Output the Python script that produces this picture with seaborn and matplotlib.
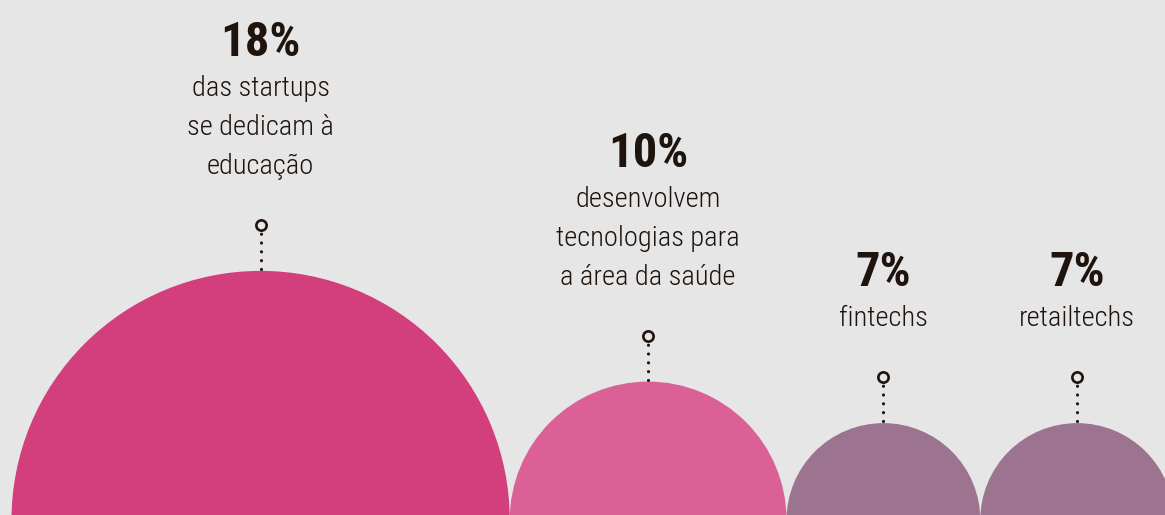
import numpy as np
import pandas as pd
import matplotlib
matplotlib.use("Agg")
import matplotlib.pyplot as plt
from matplotlib.patches import Circle
from matplotlib import font_manager
import seaborn as sns

# ---- data ----
categories = ["educação", "saúde", "fintechs", "retailtechs"]
values = [18, 10, 7, 7]
pct_labels = ["18%", "10%", "7%", "7%"]
descriptions = [
    ["das startups", "se dedicam à", "educação"],
    ["desenvolvem", "tecnologias para", "a área da saúde"],
    ["fintechs"],
    ["retailtechs"],
]
colors = ["#D33E7D", "#DA6096", "#9C7490", "#9C7490"]

# ---- style ----
BG = "#E6E6E6"
INK = "#1F140D"
sns.set_theme(style="white", rc={"figure.facecolor": BG, "axes.facecolor": BG})

available = {f.name for f in font_manager.fontManager.ttflist}
candidates = ["Roboto Condensed", "Liberation Sans Narrow", "DejaVu Sans Condensed",
              "Open Sans Condensed", "Roboto", "DejaVu Sans"]
font_list = [c for c in candidates if c in available] or ["DejaVu Sans"]
plt.rcParams["font.family"] = font_list + ["DejaVu Sans"]

W, H = 1165, 515
fig = plt.figure(figsize=(W / 100, H / 100), dpi=100)
ax = fig.add_axes([0, 0, 1, 1])
ax.set_xlim(0, W)
ax.set_ylim(0, H)
ax.set_axis_off()

K = 13.84          # pixels per percentage point (radius)
left = 11.5        # left edge of the first circle
cy = -5            # circle centres slightly below the bottom edge

radii = np.array(values) * K
centers = []
x = left
for r in radii:
    centers.append(x + r)
    x += 2 * r

marker_rows = []
for i, (cx, r) in enumerate(zip(centers, radii)):
    ax.add_patch(Circle((cx, cy), r, facecolor=colors[i], edgecolor="none", zorder=1))
    top = cy + r
    my = top + 46
    marker_rows.append({"x": cx, "y": my})
    # dotted connector
    ax.plot([cx, cx], [top + 2, my - 6], color=INK, lw=2.3,
            linestyle=(0, (0.01, 2.75)), dash_capstyle="round", zorder=2)
    # description text (bottom line up)
    lines = descriptions[i]
    base = my + 51
    n = len(lines)
    for j, line in enumerate(lines):
        yb = base + (n - 1 - j) * 38.7
        ax.text(cx, yb, line, ha="center", va="baseline", fontsize=20.5,
                color=INK, fontweight="light", zorder=3)
    top_line = base + (n - 1) * 38.7
    ax.text(cx, top_line + 40.5, pct_labels[i], ha="center", va="baseline",
            fontsize=35, color=INK, fontweight="bold", zorder=3)

mdf = pd.DataFrame(marker_rows)
sns.scatterplot(data=mdf, x="x", y="y", ax=ax, s=55, marker="o",
                facecolor=BG, edgecolor=INK, linewidth=1.9, zorder=4, legend=False)
ax.set_xlim(0, W)
ax.set_ylim(0, H)
ax.set_axis_off()

fig.savefig("out.png", dpi=100, facecolor=BG)
